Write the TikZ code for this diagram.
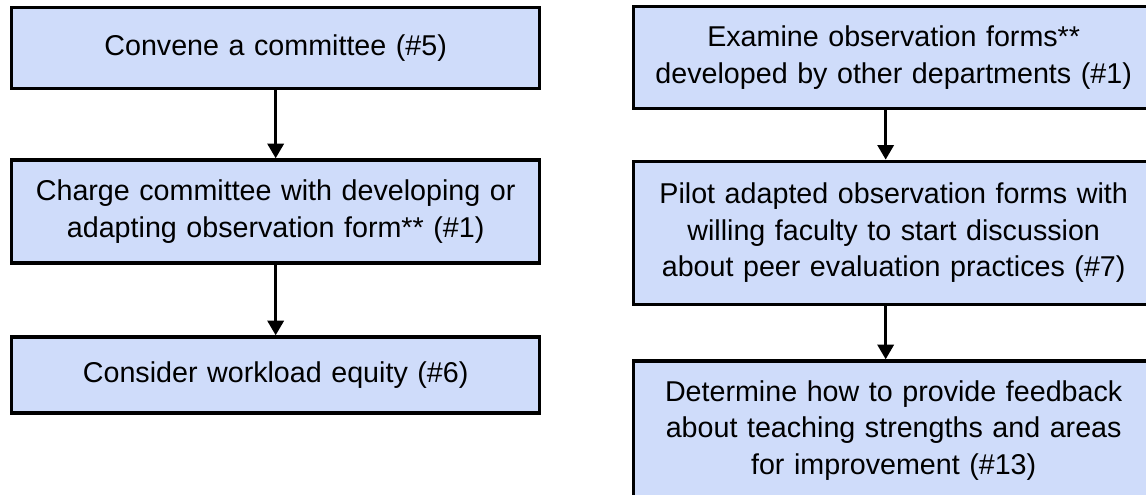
\documentclass[tikz,border=0pt]{standalone}
\usepackage{fontspec}
\setmainfont{Liberation Sans}
\usetikzlibrary{arrows.meta, positioning}
\definecolor{boxblue}{RGB}{207,220,250}

\begin{document}
\begin{tikzpicture}[node distance=52pt]
    \tikzset{
        leftbox/.style = {rectangle, draw, line width=2.5pt, fill=boxblue, text width=380pt, align=center, minimum width=396pt, inner sep=0pt, font=\fontsize{21.5}{27.5}\selectfont},
        rightbox/.style = {rectangle, draw, line width=2.5pt, fill=boxblue, text width=380pt, align=center, minimum width=390pt, inner sep=0pt, font=\fontsize{21.5}{27.5}\selectfont},
        line/.style = {draw, line width=2.5pt, -{Triangle[length=11pt, width=12pt]}}
    }
    \useasboundingbox (0,0) rectangle (859.5pt,-370.5pt);

    % left column
    \node[leftbox, minimum height=60.75pt, anchor=north west] (convene) at (7.5pt,-4.5pt) {Convene a committee (\#5)};
    \node[leftbox, minimum height=77.25pt, below=51pt of convene] (charge) {Charge committee with developing or\\adapting observation form** (\#1)};
    \node[leftbox, minimum height=57pt, below=53pt of charge] (workload) {Consider workload equity (\#6)};

    % right column
    \node[rightbox, minimum height=76.5pt, anchor=north west] (examine) at (474pt,-3.75pt) {Examine observation forms**\\developed by other departments (\#1)};
    \node[rightbox, minimum height=107.25pt, below=37pt of examine] (pilot) {Pilot adapted observation forms with\\willing faculty to start discussion\\about peer evaluation practices (\#7)};
    \node[rightbox, minimum height=104.25pt, below=40pt of pilot] (feedback) {Determine how to provide feedback\\about teaching strengths and areas\\for improvement (\#13)};

    \path[line] (convene) -- (charge);
    \path[line] (charge) -- (workload);
    \path[line] ([xshift=-6pt]examine.south) -- ([xshift=-6pt]pilot.north);
    \path[line] ([xshift=-6pt]pilot.south) -- ([xshift=-6pt]feedback.north);
\end{tikzpicture}
\end{document}
